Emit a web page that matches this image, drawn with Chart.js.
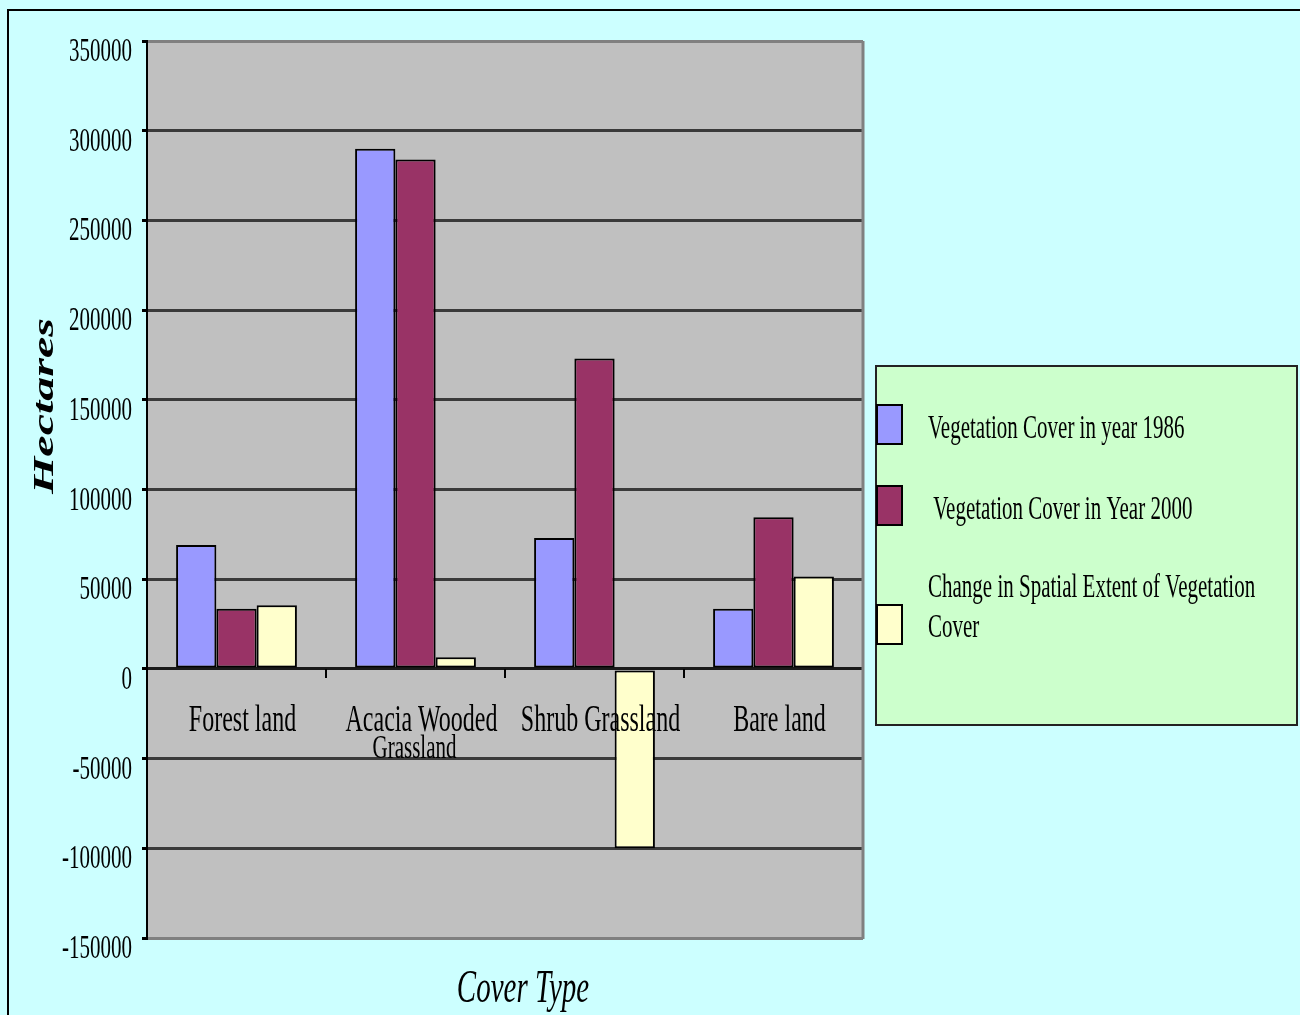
<!DOCTYPE html>
<html>
<head>
<meta charset="utf-8">
<title>Vegetation Cover by Cover Type</title>
<script src="https://cdn.jsdelivr.net/npm/chart.js@4.4.0/dist/chart.umd.min.js"></script>
<style>
    html, body { margin: 0; padding: 0; background: #ccffff; }
    #wrap { position: relative; width: 1300px; height: 1015px; overflow: hidden; }
</style>
</head>
<body>
<div id="wrap"><canvas id="cover-chart" width="1300" height="1015"></canvas></div>
<script>
// chart data
const categories = [['Forest land'], ['Acacia Wooded', 'Grassland'], ['Shrub Grassland'], ['Bare land']];
const seriesNames = [
    ['Vegetation Cover in year 1986'],
    [' Vegetation Cover in Year 2000'],
    ['Change in Spatial Extent of Vegetation', 'Cover']
];
const cover1986 = [69000, 290000, 73000, 33500];
const cover2000 = [33500, 284000, 173000, 84500];
const coverChange = [35500, 6500, -100000, 51500];
const yTickValues = [350000, 300000, 250000, 200000, 150000, 100000, 50000, 0, -50000, -100000, -150000];

const seriesColors = ['#9999ff', '#993366', '#ffffcc'];
const serif = '"Liberation Serif", "Times New Roman", serif';
const stretch = 1.6;   // the original picture is squashed sideways, text looks tall

// draw text stretched vertically (or along the text when rotated)
function tallText(ctx, text, x, y, font, align, rotate) {
    ctx.save();
    ctx.font = font;
    ctx.fillStyle = '#000';
    ctx.textAlign = align;
    ctx.textBaseline = 'alphabetic';
    ctx.translate(x, y);
    if (rotate) {
        ctx.rotate(-Math.PI / 2);
        ctx.scale(stretch, 1);
    } else {
        ctx.scale(1, stretch);
    }
    ctx.fillText(text, 0, 0);
    ctx.restore();
}

const decorations = {
    id: 'decorations',
    beforeDraw(chart) {
        const {ctx, chartArea} = chart;
        ctx.save();
        ctx.fillStyle = '#ccffff';
        ctx.fillRect(0, 0, chart.width, chart.height);
        ctx.fillStyle = '#c0c0c0';
        ctx.fillRect(chartArea.left, chartArea.top, chartArea.right - chartArea.left, chartArea.bottom - chartArea.top);
        ctx.restore();
    },
    afterDraw(chart) {
        const {ctx, chartArea, scales} = chart;
        const x = scales.x, y = scales.y;
        ctx.save();

        // outer frame
        ctx.fillStyle = '#000';
        ctx.fillRect(7, 9, 2, chart.height);
        ctx.fillRect(7, 9, chart.width, 2);

        // plot area right edge
        ctx.strokeStyle = '#808080';
        ctx.lineWidth = 3;
        ctx.beginPath();
        ctx.moveTo(chartArea.right, chartArea.top);
        ctx.lineTo(chartArea.right, chartArea.bottom + 1);
        ctx.stroke();

        // small ticks between categories on the zero line
        const zero = y.getPixelForValue(0);
        ctx.strokeStyle = '#000';
        ctx.lineWidth = 2;
        for (let i = 0; i < categories.length - 1; i++) {
            const bx = (x.getPixelForValue(i) + x.getPixelForValue(i + 1)) / 2;
            ctx.beginPath();
            ctx.moveTo(bx, zero);
            ctx.lineTo(bx, zero + 9);
            ctx.stroke();
        }

        // y tick labels
        y.ticks.forEach(t => {
            tallText(ctx, String(t.value), 132, y.getPixelForValue(t.value) + 20, '21px ' + serif, 'right');
        });

        // category labels, sitting just under the zero line
        categories.forEach((lines, i) => {
            const cx = x.getPixelForValue(i);
            tallText(ctx, lines[0], cx + 6, zero + 62, '24px ' + serif, 'center');
            if (lines[1]) {
                tallText(ctx, lines[1], cx - 1, zero + 89, '21px ' + serif, 'center');
            }
        });

        // axis titles
        tallText(ctx, 'Hectares', 53, 406, 'bold italic 30px ' + serif, 'center', true);
        tallText(ctx, 'Cover Type', 523, 1002, 'italic 29px ' + serif, 'center');

        // legend box
        ctx.fillStyle = '#ccffcc';
        ctx.fillRect(876, 366, 421, 359);
        ctx.strokeStyle = '#222';
        ctx.lineWidth = 2;
        ctx.strokeRect(876, 366, 421, 359);

        const swatchTops = [405, 486, 605];
        const textBases = [[438], [519], [597, 637]];
        chart.data.datasets.forEach((ds, i) => {
            ctx.fillStyle = ds.backgroundColor;
            ctx.fillRect(877, swatchTops[i], 25, 39);
            ctx.strokeStyle = '#000';
            ctx.lineWidth = 2;
            ctx.strokeRect(877, swatchTops[i], 25, 39);
            seriesNames[i].forEach((line, j) => {
                tallText(ctx, line, 928, textBases[i][j], '21px ' + serif, 'left');
            });
        });

        ctx.restore();
    }
};

function gridColor(ctx) {
    const v = ctx.tick && ctx.tick.value;
    if (v === 350000 || v === -150000) return '#808080';
    if (v === 0) return '#1a1a1a';
    return '#3a3a3a';
}

new Chart(document.querySelector('#cover-chart').getContext('2d'), {
    type: 'bar',
    data: {
        labels: categories.map(c => c.join(' ')),
        datasets: [cover1986, cover2000, coverChange].map((values, i) => ({
            label: seriesNames[i].join(' ').trim(),
            data: values,
            backgroundColor: seriesColors[i],
            borderColor: '#000',
            borderWidth: 2,
            borderSkipped: false,
            categoryPercentage: 0.675,
            barPercentage: 1.0
        }))
    },
    options: {
        responsive: false,
        animation: false,
        layout: { padding: { left: 0, top: 41, right: 437, bottom: 0 } },
        plugins: {
            legend: { display: false },
            tooltip: { enabled: false }
        },
        scales: {
            x: {
                ticks: { display: false },
                grid: { display: false },
                border: { display: false },
                afterFit(scale) { scale.height = 77; }
            },
            y: {
                min: yTickValues[yTickValues.length - 1],
                max: yTickValues[0],
                afterBuildTicks(scale) { scale.ticks = yTickValues.map(v => ({ value: v })); },
                ticks: { display: false, stepSize: 50000 },
                grid: {
                    color: gridColor,
                    lineWidth: 3,
                    tickLength: 5,
                    tickColor: '#000'
                },
                border: { color: '#000', width: 2 },
                afterFit(scale) { scale.width = 147; }
            }
        }
    },
    plugins: [decorations]
});
</script>
</body>
</html>
